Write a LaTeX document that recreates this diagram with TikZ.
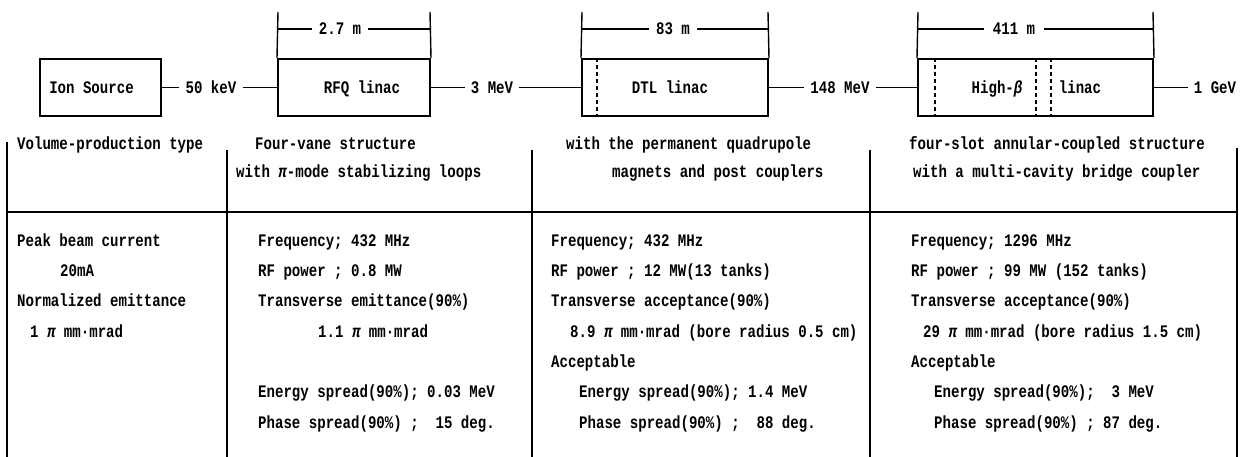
\documentclass[tikz,border=0pt]{standalone}
\usepackage{fontspec}
\setmainfont{Liberation Mono}[FakeStretch=0.8]
\usetikzlibrary{calc}
\begin{document}
\begin{tikzpicture}[x=1pt,y=-1pt,
  txt/.style={font=\fontsize{17.6}{20}\selectfont\bfseries, inner sep=0pt, text=black, anchor=base},
  lbl/.style={txt, inner xsep=6pt},
  rowtxt/.style={txt, anchor=base west},
  unitbox/.style={draw=black, line width=2pt, inner sep=0pt, minimum height=57},
  conn/.style={draw=black, line width=1.4pt},
  tabline/.style={draw=black, line width=1.3pt},
  dashline/.style={draw=black, line width=1.3pt, dash pattern=on 4pt off 3pt}]
\useasboundingbox[fill=white] (0,0) rectangle (1243,457);

% ---- unit boxes
\node[unitbox, minimum width=121] (ion) at (100.5,87.5) {};
\node[unitbox, minimum width=152] (rfq) at (354,87.5) {};
\node[unitbox, minimum width=186] (dtl) at (675,87.5) {};
\node[unitbox, minimum width=235] (hb) at (1035.5,87.5) {};

% box labels
\node[txt] (iont) at (91.5,93.5) {Ion Source};
\node[txt] (rfqt) at (362,93.5) {RFQ linac};
\node[txt] (dtlt) at (670,93.5) {DTL linac};
\node[txt] (hbt1) at (997,93.5) {High-{\itshape β}};
\node[txt] (hbt2) at (1080,93.5) {linac};

% dashed partitions
\draw[dashline] ($(dtl.north west)+(16,0)$) -- ($(dtl.south west)+(16,0)$);
\draw[dashline] ($(hb.north west)+(18,0)$) -- ($(hb.south west)+(18,0)$);
\draw[dashline] ($(hb.north west)+(119,0)$) -- ($(hb.south west)+(119,0)$);
\draw[dashline] ($(hb.north west)+(134,0)$) -- ($(hb.south west)+(134,0)$);

% energy labels and beam line
\node[lbl] (kev) at (211,93.5) {50 keV};
\node[lbl] (mev3) at (492,93.5) {3 MeV};
\node[lbl] (mev148) at (840,93.5) {148 MeV};
\node[lbl] (gev) at (1215,93.5) {1 GeV};

\draw[conn] (ion.east) -- (ion.east -| kev.west);
\draw[conn] (kev.east |- rfq.west) -- (rfq.west);
\draw[conn] (rfq.east) -- (rfq.east -| mev3.west);
\draw[conn] (mev3.east |- dtl.west) -- (dtl.west);
\draw[conn] (dtl.east) -- (dtl.east -| mev148.west);
\draw[conn] (mev148.east |- hb.west) -- (hb.west);
\draw[conn] (hb.east) -- (hb.east -| gev.west);

% ---- length dimensions
\coordinate (t1a) at (278,12);
\coordinate (t1b) at (430,12);
\coordinate (t2a) at (582,12);
\coordinate (t2b) at (768,12);
\coordinate (t3a) at (918,12);
\coordinate (t3b) at (1153,12);
\draw[conn] (rfq.north west) -- (t1a);
\draw[conn] (rfq.north east) -- (t1b);
\draw[conn] (dtl.north west) -- (t2a);
\draw[conn] (dtl.north east) -- (t2b);
\draw[conn] (hb.north west) -- (t3a);
\draw[conn] (hb.north east) -- (t3b);

\node[lbl, inner xsep=7pt] (len1) at (340,34.8) {2.7 m};
\node[lbl, inner xsep=7pt] (len2) at (673,34.8) {83 m};
\node[lbl, inner xsep=9pt] (len3) at (1014,34.8) {411 m};
\draw[conn] (t1a |- len1.west) -- (len1.west);
\draw[conn] (len1.east) -- (len1.east -| t1b);
\draw[conn] (t2a |- len2.west) -- (len2.west);
\draw[conn] (len2.east) -- (len2.east -| t2b);
\draw[conn] (t3a |- len3.west) -- (len3.west);
\draw[conn] (len3.east) -- (len3.east -| t3b);

% ---- table rules
\draw[tabline] (7,142) -- (7,457);
\draw[tabline] (227,150) -- (227,457);
\draw[tabline] (532,150) -- (532,457);
\draw[tabline] (870,150) -- (870,457);
\draw[tabline] (1237,148) -- (1237,457);
\draw[tabline] (7,212) -- (1237,212);

% ---- column 1
\node[rowtxt] (c1h) at (17,150) {Volume-production type};
\node[rowtxt] (c1a) at (17,246.3) {Peak beam current};
\node[rowtxt] (c1b) at (60,276.6) {20mA};
\node[rowtxt] (c1c) at (17,306.9) {Normalized emittance};
\node[rowtxt] (c1d) at (30,337.2) {1 {\itshape π} mm·mrad};

% ---- column 2
\node[rowtxt] (c2h1) at (255,150) {Four-vane structure};
\node[rowtxt] (c2h2) at (236,178) {with {\itshape π}-mode stabilizing loops};
\node[rowtxt] (c2a) at (258,246.3) {Frequency; 432 MHz};
\node[rowtxt] (c2b) at (258,276.6) {RF power ; 0.8 MW};
\node[rowtxt] (c2c) at (258,306.9) {Transverse emittance(90\%)};
\node[rowtxt] (c2d) at (318,337.2) {1.1 {\itshape π} mm·mrad};
\node[rowtxt] (c2f) at (258,397.8) {Energy spread(90\%); 0.03 MeV};
\node[rowtxt] (c2g) at (258,428.1) {Phase spread(90\%) ;~~15 deg.};

% ---- column 3
\node[rowtxt] (c3h1) at (566,150) {with the permanent quadrupole};
\node[rowtxt] (c3h2) at (612,178) {magnets and post couplers};
\node[rowtxt] (c3a) at (551,246.3) {Frequency; 432 MHz};
\node[rowtxt] (c3b) at (551,276.6) {RF power ; 12 MW(13 tanks)};
\node[rowtxt] (c3c) at (551,306.9) {Transverse acceptance(90\%)};
\node[rowtxt] (c3d) at (570,337.2) {8.9 {\itshape π} mm·mrad (bore radius 0.5 cm)};
\node[rowtxt] (c3e) at (551,367.5) {Acceptable};
\node[rowtxt] (c3f) at (579,397.8) {Energy spread(90\%); 1.4 MeV};
\node[rowtxt] (c3g) at (579,428.1) {Phase spread(90\%) ;~ 88 deg.};

% ---- column 4
\node[rowtxt] (c4h1) at (909,150) {four-slot annular-coupled structure};
\node[rowtxt] (c4h2) at (913,178) {with a multi-cavity bridge coupler};
\node[rowtxt] (c4a) at (911,246.3) {Frequency; 1296 MHz};
\node[rowtxt] (c4b) at (911,276.6) {RF power ; 99 MW (152 tanks)};
\node[rowtxt] (c4c) at (911,306.9) {Transverse acceptance(90\%)};
\node[rowtxt] (c4d) at (923,337.2) {29 {\itshape π} mm·mrad (bore radius 1.5 cm)};
\node[rowtxt] (c4e) at (911,367.5) {Acceptable};
\node[rowtxt] (c4f) at (934,397.8) {Energy spread(90\%);~ 3 MeV};
\node[rowtxt] (c4g) at (934,428.1) {Phase spread(90\%) ; 87 deg.};
\end{tikzpicture}
\end{document}
